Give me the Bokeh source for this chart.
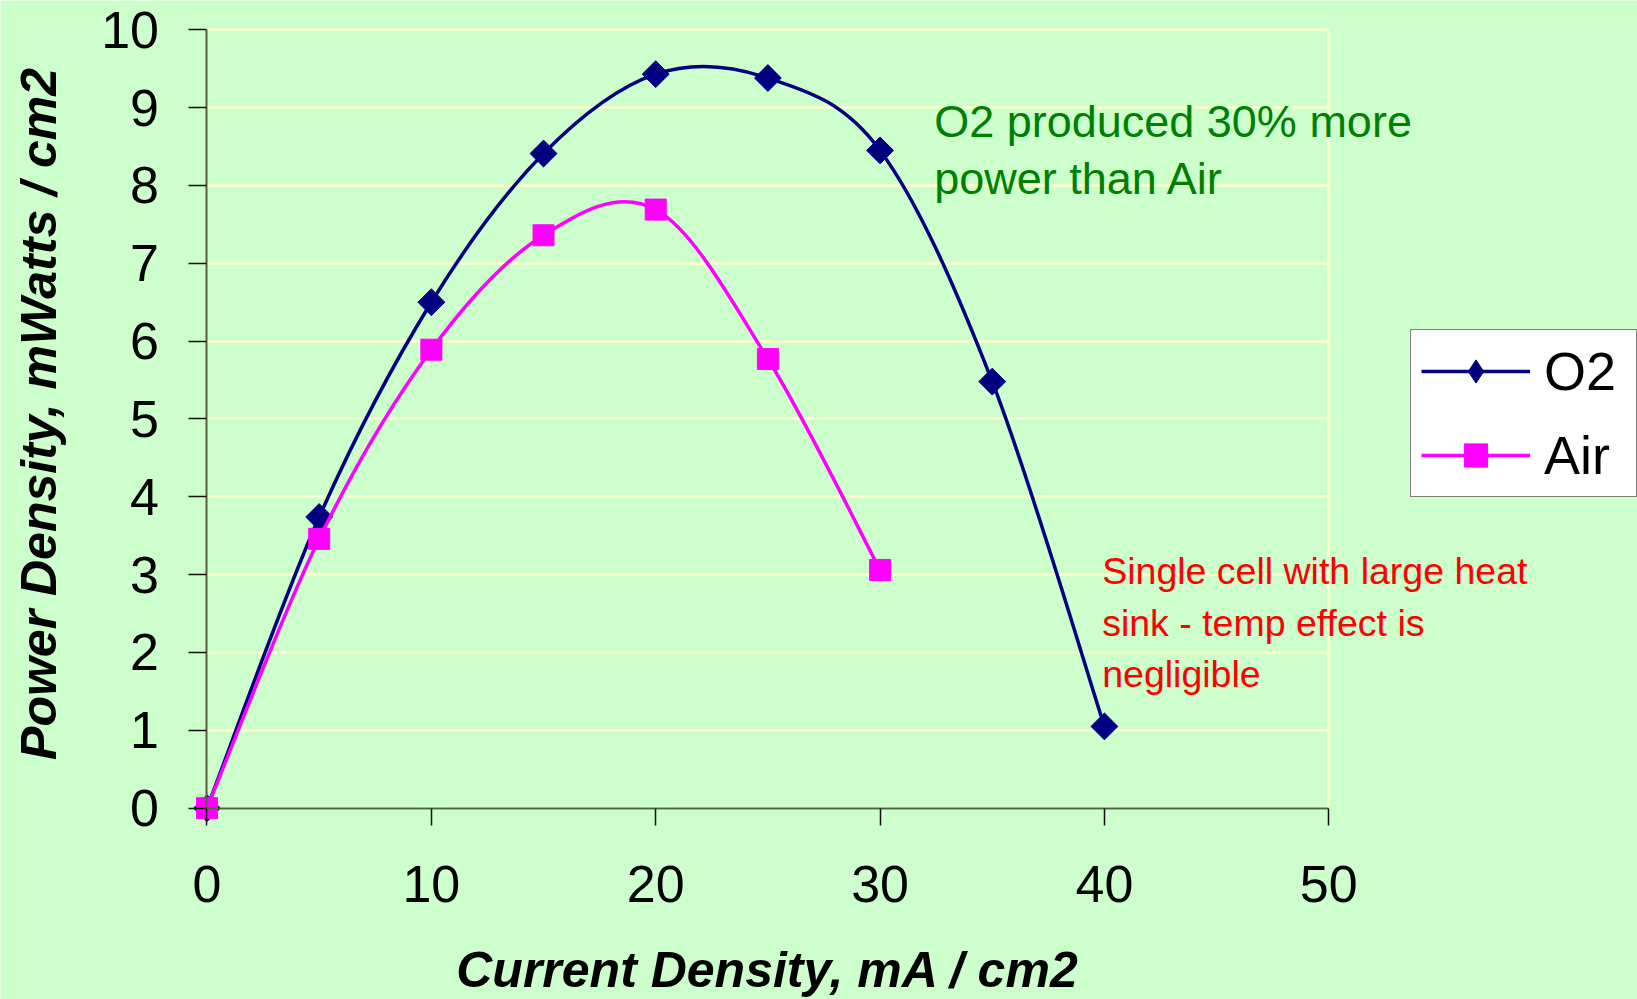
import numpy as np
from bokeh.plotting import figure
from bokeh.models import Legend, LegendItem, Label, Range1d, FixedTicker
from bokeh.embed import file_html
from bokeh.resources import INLINE

# ---- data ----
o2_current = [0, 5, 10, 15, 20, 25, 30, 35, 40]
o2_power = [0.0, 3.74, 6.50, 8.41, 9.43, 9.38, 8.45, 5.48, 1.05]
air_current = [0, 5, 10, 15, 20, 25, 30]
air_power = [0.0, 3.46, 5.89, 7.36, 7.69, 5.77, 3.06]
x_ticks = [0, 10, 20, 30, 40, 50]
y_ticks = [0, 1, 2, 3, 4, 5, 6, 7, 8, 9, 10]
series_names = ["O2", "Air"]
x_title = "Current Density, mA / cm2"
y_title = "Power Density, mWatts / cm2"
note_green = ["O2 produced 30% more", "power than Air"]
note_red = ["Single cell with large heat", "sink - temp effect is", "negligible"]

BG = "#CCFFCC"
GRID = "#FFFFCC"
FONT = "Liberation Sans"

X_MAX, Y_MAX = 50, 10
# visible window: the plotting frame covers the whole canvas, the axes sit at 0
X_VIEW = (-9.204, 63.76)
Y_VIEW = (-2.458, 10.376)


def smooth_segments(xs, ys):
    """Bezier control points of a spreadsheet-style smoothed line through the points."""
    x = np.asarray(xs, float)
    y = np.asarray(ys, float)
    n = len(x)
    xp = np.concatenate([[x[0]], x, [x[-1]]])
    yp = np.concatenate([[y[0]], y, [y[-1]]])
    return dict(
        x0=x[:-1], y0=y[:-1], x1=x[1:], y1=y[1:],
        cx0=x[:-1] + (xp[2:n + 1] - xp[0:n - 1]) / 6.0,
        cy0=y[:-1] + (yp[2:n + 1] - yp[0:n - 1]) / 6.0,
        cx1=x[1:] - (xp[3:n + 2] - xp[1:n]) / 6.0,
        cy1=y[1:] - (yp[3:n + 2] - yp[1:n]) / 6.0,
    )


p = figure(width=1637, height=999, output_backend="svg", toolbar_location=None,
           x_range=Range1d(*X_VIEW), y_range=Range1d(*Y_VIEW),
           min_border_left=0, min_border_right=0, min_border_top=0, min_border_bottom=0)
p.background_fill_color = BG
p.border_fill_color = BG
p.outline_line_color = None

# horizontal grid lines + right border of the plot area
p.ygrid.grid_line_color = GRID
p.ygrid.grid_line_width = 2.5
p.ygrid.ticker = FixedTicker(ticks=y_ticks)
p.ygrid.bounds = (0, Y_MAX)
p.ygrid.cross_bounds = (0, X_MAX)
p.xgrid.grid_line_color = GRID
p.xgrid.grid_line_width = 3
p.xgrid.ticker = FixedTicker(ticks=[X_MAX])
p.xgrid.bounds = (0, X_MAX)
p.xgrid.cross_bounds = (0, Y_MAX)

for ax, ticks, bnds in ((p.xaxis, x_ticks, (0, X_MAX)), (p.yaxis, y_ticks, (0, Y_MAX))):
    ax.fixed_location = 0
    ax.bounds = bnds
    ax.ticker = FixedTicker(ticks=ticks)
    ax.axis_line_color = "#5c5c44"
    ax.axis_line_width = 2
    ax.major_tick_line_color = "#111111"
    ax.major_tick_line_width = 1.5
    ax.major_tick_in = 0
    ax.minor_tick_line_color = None
    ax.major_label_text_font = FONT
    ax.major_label_text_font_size = "52px"
    ax.major_label_text_color = "black"

p.xaxis.major_tick_out = 17
p.xaxis.major_label_standoff = 41
p.yaxis.major_tick_out = 18
p.yaxis.major_label_standoff = 30

# series
o2_seg = smooth_segments(o2_current, o2_power)
air_seg = smooth_segments(air_current, air_power)

o2_line = p.bezier(source=o2_seg, x0="x0", y0="y0", x1="x1", y1="y1",
                   cx0="cx0", cy0="cy0", cx1="cx1", cy1="cy1",
                   line_color="#000080", line_width=3.5)
# diamond-shaped key for the legend (hidden under the rotated squares in the plot)
o2_key = p.scatter(o2_current, o2_power, marker="diamond", size=20,
                   fill_color="#000080", line_color="#000080")
o2_pts = p.scatter(o2_current, o2_power, marker="square", angle=np.pi / 4, size=19,
                   fill_color="#000080", line_color="#000080")
air_line = p.bezier(source=air_seg, x0="x0", y0="y0", x1="x1", y1="y1",
                    cx0="cx0", cy0="cy0", cx1="cx1", cy1="cy1",
                    line_color="#FF00FF", line_width=3.5)
air_pts = p.scatter(air_current, air_power, marker="square", size=21,
                    fill_color="#FF00FF", line_color="#FF00FF")

legend = Legend(items=[LegendItem(label=series_names[0], renderers=[o2_line, o2_key]),
                       LegendItem(label=series_names[1], renderers=[air_line, air_pts])],
                location=(1410, 502))
legend.border_line_color = "black"
legend.border_line_width = 1.5
legend.background_fill_color = "white"
legend.background_fill_alpha = 1.0
legend.label_text_font = FONT
legend.label_text_font_size = "54px"
legend.label_text_color = "black"
legend.glyph_width = 109
legend.glyph_height = 58
legend.label_height = 60
legend.label_width = 82
legend.label_standoff = 14
legend.padding = 10
legend.spacing = 22
legend.margin = 0
p.add_layout(legend, "center")

# axis titles
p.add_layout(Label(x=25, y=-2.085, text=x_title, text_align="center", text_baseline="alphabetic",
                   text_font=FONT, text_font_style="bold italic", text_font_size="50px",
                   text_color="black"))
p.add_layout(Label(x=-7.51, y=5.064, text=y_title, angle=np.pi / 2, text_align="center",
                   text_baseline="middle", text_font=FONT, text_font_style="bold italic",
                   text_font_size="50px", text_color="black"))

green_y = [8.823, 8.083]
for txt, yy in zip(note_green, green_y):
    p.add_layout(Label(x=32.41, y=yy, text=txt, text_baseline="alphabetic", text_font=FONT,
                       text_font_size="45px", text_color="#008000"))

red_y = [3.041, 2.373, 1.718]
for txt, yy in zip(note_red, red_y):
    p.add_layout(Label(x=39.9, y=yy, text=txt, text_baseline="alphabetic", text_font=FONT,
                       text_font_size="37.5px", text_color="#FF0000"))

open("out.html", "w").write(file_html(p, INLINE))
